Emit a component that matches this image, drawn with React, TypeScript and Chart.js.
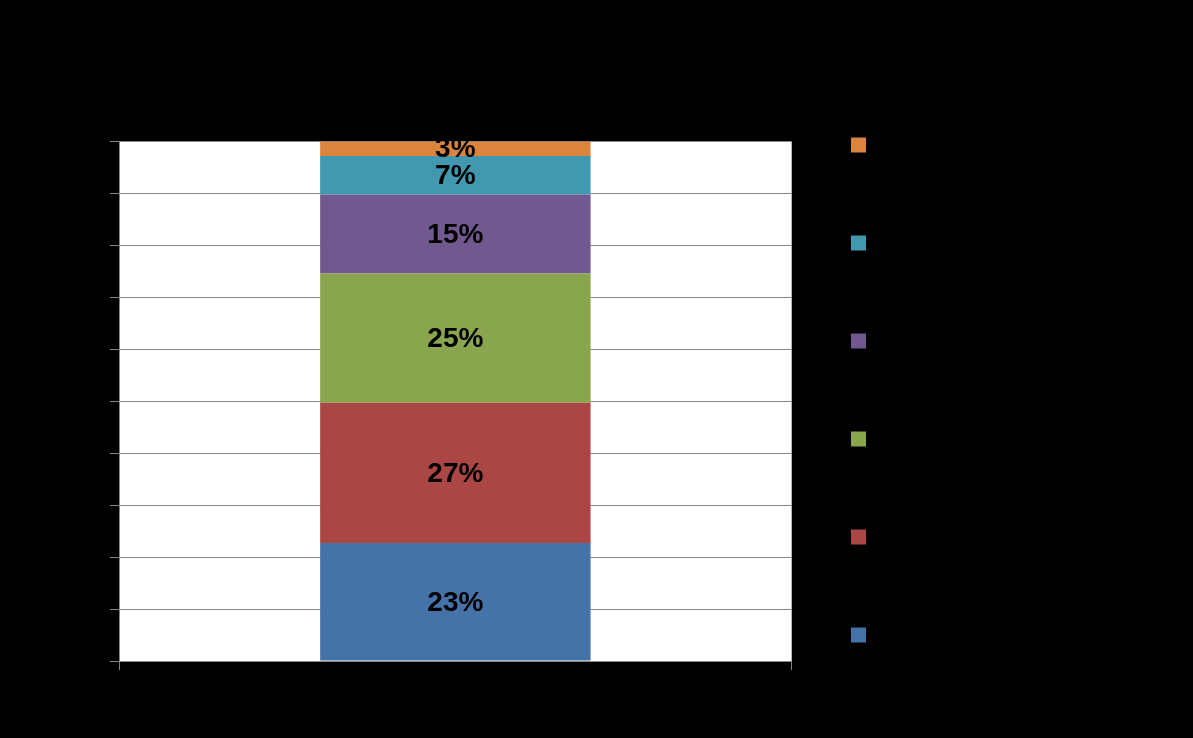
import React, { useEffect, useRef } from "react";
import { Chart, registerables } from "chart.js";

Chart.register(...registerables);

const categories: string[] = ["% podíl z prodaných bytů"];
const seriesNames: string[] = [
  "do 40 000 Kč/m2",
  "40 001 - 45 000 Kč/m2",
  "45 001 - 50 000 Kč/m2",
  "50 001 - 60 000 Kč/m2",
  "60 001 - 80 000 Kč/m2",
  "nad 80 000 Kč/m2",
];
const seriesValues: number[] = [22.7, 27.0, 24.9, 15.2, 7.4, 2.8];
const seriesLabels: string[] = ["23%", "27%", "25%", "15%", "7%", "3%"];
const seriesColors: string[] = ["#4572A7", "#AA4643", "#89A54E", "#71588F", "#4198AF", "#DB843D"];
const yTicks: number[] = [0, 10, 20, 30, 40, 50, 60, 70, 80, 90, 100];
const titleLines: string[] = [
  "Předpokládaný podíl na celkovém prodeji nových bytů",
  "v roce 2013 podle cenové úrovně",
];

const W = 1193;
const H = 738;
const FONT = "'Liberation Sans', Arial, sans-serif";
const GRID = "#868686";

const backgroundPlugin = {
  id: "bgPlot",
  beforeDraw(chart: any) {
    const { ctx, chartArea } = chart;
    ctx.save();
    ctx.fillStyle = "#000000";
    ctx.fillRect(0, 0, chart.width, chart.height);
    ctx.fillStyle = "#ffffff";
    ctx.fillRect(chartArea.left, chartArea.top, chartArea.right - chartArea.left, chartArea.bottom - chartArea.top);
    ctx.restore();
  },
};

const legendPlacer = {
  id: "legendPlacer",
  afterLayout(chart: any) {
    const l = chart.legend;
    if (!l) return;
    const left = 781;
    const top = 61;
    l.left = left;
    l.right = W;
    l.top = top;
    l.bottom = H;
    l.width = W - left;
    l.height = H - top;
  },
};

const dataLabels = {
  id: "segLabels",
  afterDatasetsDraw(chart: any) {
    const { ctx } = chart;
    ctx.save();
    ctx.font = `bold 28px ${FONT}`;
    ctx.fillStyle = "#000000";
    ctx.textAlign = "center";
    ctx.textBaseline = "middle";
    chart.data.datasets.forEach((ds: any, i: number) => {
      const meta = chart.getDatasetMeta(i);
      meta.data.forEach((el: any) => {
        const p = el.getProps(["x", "y", "base"], true);
        ctx.fillText(seriesLabels[i], p.x, (p.y + p.base) / 2 + 1);
      });
    });
    ctx.restore();
  },
};

export default function App() {
  const ref = useRef<HTMLCanvasElement | null>(null);

  useEffect(() => {
    if (!ref.current) return;
    const chart = new Chart(ref.current, {
      type: "bar",
      data: {
        labels: categories,
        datasets: seriesNames.map((name, i) => ({
          label: name,
          data: [seriesValues[i]],
          backgroundColor: seriesColors[i],
          borderWidth: 0,
          barPercentage: 0.402,
          categoryPercentage: 1,
        })),
      },
      options: {
        responsive: false,
        animation: false,
        devicePixelRatio: 1,
        layout: { padding: { left: 0, top: 0, bottom: 0, right: 9 } },
        scales: {
          x: {
            stacked: true,
            grid: {
              display: true,
              drawOnChartArea: false,
              drawTicks: true,
              tickLength: 9,
              color: GRID,
              offset: true,
            },
            border: { color: GRID, width: 1 },
            ticks: {
              color: "#000000",
              font: { family: FONT, size: 28 },
              padding: 14,
            },
            afterFit(scale: any) {
              scale.height = 77;
            },
          },
          y: {
            stacked: true,
            min: 0,
            max: 100,
            afterBuildTicks(scale: any) {
              scale.ticks = yTicks.map((v) => ({ value: v }));
            },
            grid: {
              color: GRID,
              tickLength: 9,
              drawTicks: true,
            },
            border: { color: GRID, width: 1 },
            ticks: {
              color: "#000000",
              font: { family: FONT, size: 27 },
              padding: 15,
              callback: (v: any) => `${v}%`,
            },
            afterFit(scale: any) {
              scale.width = 119;
            },
          },
        },
        plugins: {
          title: {
            display: true,
            text: titleLines,
            color: "#000000",
            font: { family: FONT, size: 35, weight: "bold", lineHeight: 1.25 },
            padding: { top: 22, bottom: 32 },
          },
          legend: {
            display: true,
            position: "right",
            align: "start",
            reverse: true,
            maxWidth: 402,
            labels: {
              color: "#000000",
              font: { family: FONT, size: 28 },
              boxWidth: 15,
              boxHeight: 15,
              padding: 70,
            },
          },
          tooltip: { enabled: false },
        },
      },
      plugins: [backgroundPlugin, legendPlacer, dataLabels],
    } as any);
    return () => chart.destroy();
  }, []);

  return (
    <div style={{ position: "fixed", left: 0, top: 0, width: W, height: H, background: "#000" }}>
      <canvas ref={ref} width={W} height={H} style={{ display: "block", width: W, height: H }} />
    </div>
  );
}
